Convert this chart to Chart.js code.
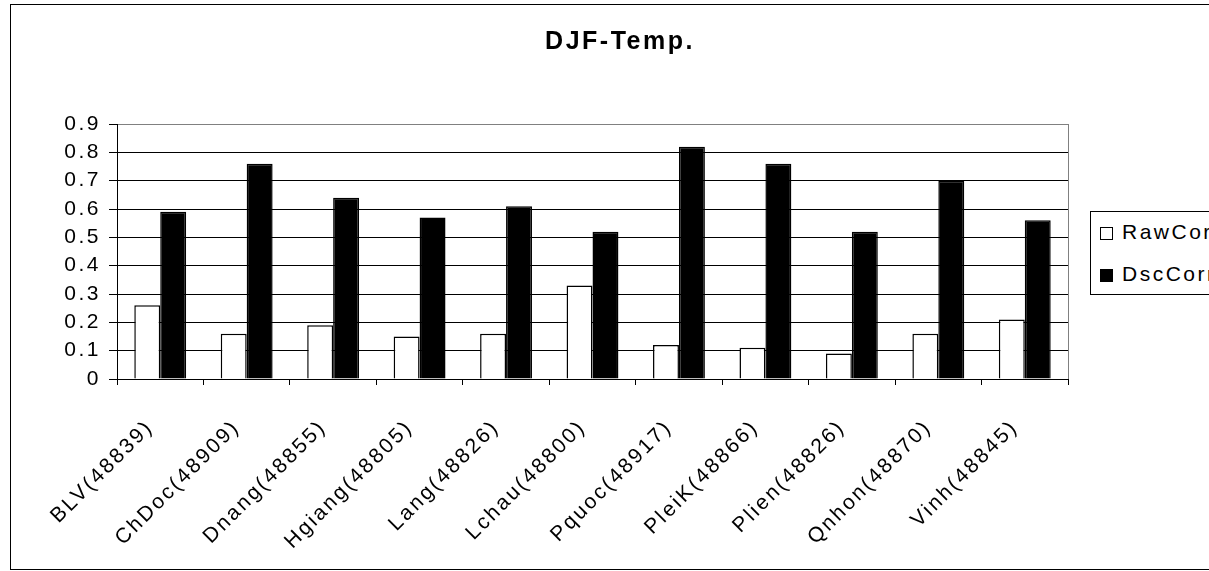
<!DOCTYPE html>
<html>
<head>
<meta charset="utf-8">
<title>DJF-Temp.</title>
<script src="https://cdn.jsdelivr.net/npm/chart.js@4/dist/chart.umd.min.js"></script>
<style>
    html, body { margin: 0; padding: 0; background: #fff; overflow: hidden; width: 1209px; height: 571px; }
    #cadre { position: absolute; left: 10px; top: 4px; width: 1218px; height: 564px; border: 1px solid #000; }
    #legende { position: absolute; left: 1090px; top: 211px; width: 200px; height: 82px; border: 1px solid #000; background: #fff;
               font-family: "Liberation Sans", Arial, sans-serif; font-size: 21px; letter-spacing: 2.5px; }
    .item { position: absolute; left: 9px; height: 24px; line-height: 24px; white-space: nowrap; }
    .carre { display: inline-block; width: 11px; height: 11px; border: 1px solid #000; margin-right: 9px; vertical-align: -1px; }
</style>
</head>
<body>
<div id="cadre"><canvas id="graphique" width="1218" height="564"></canvas></div>
<div id="legende"></div>
<script>
// Données
const categories = ['BLV(48839)', 'ChDoc(48909)', 'Dnang(48855)', 'Hgiang(48805)', 'Lang(48826)', 'Lchau(48800)',
                    'Pquoc(48917)', 'PleiK(48866)', 'Plien(48826)', 'Qnhon(48870)', 'Vinh(48845)'];
const rawCorr = [0.26, 0.16, 0.19, 0.15, 0.16, 0.33, 0.12, 0.11, 0.09, 0.16, 0.21];
const dscCorr = [0.59, 0.76, 0.64, 0.57, 0.61, 0.52, 0.82, 0.76, 0.52, 0.70, 0.56];
const nomsSeries = ['RawCorr', 'DscCorr'];
const couleursSeries = ['#ffffff', '#000000'];
const titre = 'DJF-Temp.';

const POLICE = '"Liberation Sans", Arial, sans-serif';
const ESPACEMENT = '2.5px';

// Petit plugin : espacement des lettres + bordure droite grise de la zone de tracé
const plugCadre = {
    id: 'plugCadre',
    beforeDraw(chart) {
        chart.ctx.letterSpacing = ESPACEMENT;
    },
    beforeDatasetsDraw(chart) {
        const a = chart.chartArea;
        const ctx = chart.ctx;
        ctx.save();
        ctx.strokeStyle = '#808080';
        ctx.lineWidth = 1;
        ctx.beginPath();
        ctx.moveTo(Math.round(a.right) + 0.5, a.top);
        ctx.lineTo(Math.round(a.right) + 0.5, a.bottom);
        ctx.stroke();
        ctx.restore();
    }
};

// Légende en HTML (la boîte est coupée par le bord droit, comme l'original)
function dessinerLegende() {
    const legende = document.getElementById('legende');
    legende.innerHTML = '';
    nomsSeries.forEach((nom, i) => {
        const item = document.createElement('div');
        item.className = 'item';
        item.style.top = (8 + i * 42) + 'px';
        item.innerHTML = `<span class="carre" style="background:${couleursSeries[i]}"></span>${nom}`;
        legende.appendChild(item);
    });
}

function dessinerGraphique() {
    const ctx = document.getElementById('graphique').getContext('2d');
    new Chart(ctx, {
        type: 'bar',
        data: {
            labels: categories,
            datasets: [
                { label: nomsSeries[0], data: rawCorr, backgroundColor: couleursSeries[0], borderColor: '#000', borderWidth: 1.5 },
                { label: nomsSeries[1], data: dscCorr, backgroundColor: couleursSeries[1], borderColor: '#000', borderWidth: 1.5 }
            ]
        },
        options: {
            responsive: false,
            animation: false,
            layout: { padding: 0 },
            datasets: { bar: { categoryPercentage: 0.6, barPercentage: 1.0 } },
            plugins: {
                legend: { display: false },
                tooltip: { enabled: false },
                title: {
                    display: true,
                    text: titre,
                    color: '#000',
                    font: { family: POLICE, size: 25, weight: 'bold', lineHeight: 1.2 },
                    padding: { top: 22, bottom: 67 }
                }
            },
            scales: {
                x: {
                    offset: true,
                    grid: { display: true, drawOnChartArea: false, drawTicks: true, tickLength: 6, color: '#000', lineWidth: 1 },
                    border: { display: true, color: '#000', width: 1 },
                    ticks: {
                        color: '#000',
                        font: { family: POLICE, size: 21 },
                        minRotation: 45, maxRotation: 45,
                        autoSkip: false,
                        padding: 30,
                        labelOffset: -10
                    },
                    afterFit: (scale) => { scale.height = 190; }
                },
                y: {
                    min: 0, max: 0.9,
                    grid: {
                        color: (c) => (c.tick && c.tick.value >= 0.899 ? '#808080' : '#000'),
                        lineWidth: 1, drawTicks: true, tickLength: 8, tickColor: '#000'
                    },
                    border: { display: true, color: '#000', width: 1 },
                    ticks: {
                        stepSize: 0.1,
                        color: '#000',
                        font: { family: POLICE, size: 21 },
                        padding: 8,
                        callback: (v) => String(Math.round(v * 10) / 10)
                    },
                    afterFit: (scale) => { scale.width = 106; }
                },
                // axe vide à droite : réserve la place de la légende sans décaler le titre
                place: {
                    position: 'right',
                    display: true,
                    grid: { display: false, drawTicks: false },
                    border: { display: false },
                    ticks: { display: false },
                    afterFit: (scale) => { scale.width = 161; }
                }
            }
        },
        plugins: [plugCadre]
    });
}

document.addEventListener('DOMContentLoaded', () => {
    dessinerGraphique();
    dessinerLegende();
});
</script>
</body>
</html>
